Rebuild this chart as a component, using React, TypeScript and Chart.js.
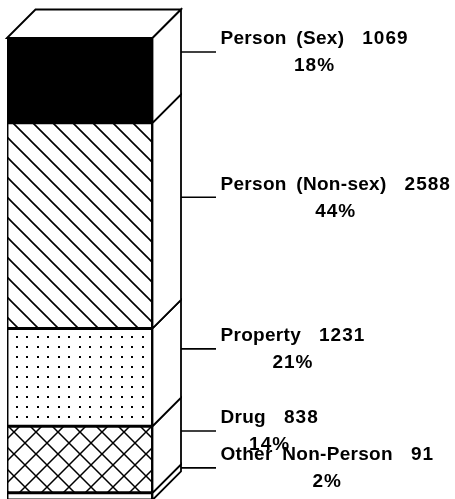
import { useEffect, useRef } from 'react';
import { Chart, registerables } from 'chart.js';

Chart.register(...registerables);

// Bottom-to-top stack order
const categories = ['Other Non-Person', 'Drug', 'Property', 'Person (Non-sex)', 'Person (Sex)'];
const values = [91, 838, 1231, 2588, 1069];
const percentLabels = ['2%', '14%', '21%', '44%', '18%'];
const fillKinds = ['white', 'cross', 'dots', 'hatch', 'solid'];
const barLabels = ['Offenses'];

function makeFill(ctx: CanvasRenderingContext2D, kind: string): string | CanvasPattern {
  if (kind === 'solid') return '#000';
  if (kind === 'white') return '#fff';
  const c = document.createElement('canvas');
  const p = c.getContext('2d')!;
  let tx = 0;
  let ty = 0;
  if (kind === 'hatch') {
    c.width = 20; c.height = 20;
    p.fillStyle = '#fff'; p.fillRect(0, 0, 20, 20);
    p.strokeStyle = '#000'; p.lineWidth = 1.6;
    p.beginPath();
    p.moveTo(-2, -2); p.lineTo(22, 22);
    p.moveTo(-2, 18); p.lineTo(2, 22);
    p.moveTo(18, -2); p.lineTo(22, 2);
    p.stroke();
    tx = 10; ty = 0;
  } else if (kind === 'cross') {
    c.width = 22; c.height = 22;
    p.fillStyle = '#fff'; p.fillRect(0, 0, 22, 22);
    p.strokeStyle = '#000'; p.lineWidth = 1.5;
    p.beginPath();
    p.moveTo(-2, -2); p.lineTo(24, 24);
    p.moveTo(24, -2); p.lineTo(-2, 24);
    p.stroke();
    tx = 14; ty = 14;
  } else if (kind === 'dots') {
    c.width = 21; c.height = 10;
    p.fillStyle = '#fff'; p.fillRect(0, 0, 21, 10);
    p.fillStyle = '#000';
    p.fillRect(0, 0, 2, 2);
    p.fillRect(10, 0, 2, 2);
    tx = 16; ty = 6;
  }
  const pat = ctx.createPattern(c, 'repeat')!;
  pat.setTransform(new DOMMatrix().translate(tx, ty));
  return pat;
}

const DEPTH = 28.5;

const depthPlugin = {
  id: 'depth3d',
  afterDatasetsDraw(chart: any) {
    const ctx: CanvasRenderingContext2D = chart.ctx;
    const yScale = chart.scales.y;
    const bar: any = chart.getDatasetMeta(0).data[0];
    const left = bar.x - bar.width / 2;
    const right = bar.x + bar.width / 2;
    const bounds: number[] = [yScale.getPixelForValue(0)];
    let cum = 0;
    values.forEach((v) => {
      cum += v;
      bounds.push(yScale.getPixelForValue(cum));
    });
    const top = bounds[bounds.length - 1];
    ctx.save();
    ctx.lineWidth = 1.8;
    ctx.strokeStyle = '#000';
    ctx.fillStyle = '#fff';
    ctx.lineJoin = 'miter';
    // top face
    ctx.beginPath();
    ctx.moveTo(left, top);
    ctx.lineTo(left + DEPTH, top - DEPTH);
    ctx.lineTo(right + DEPTH, top - DEPTH);
    ctx.lineTo(right, top);
    ctx.closePath();
    ctx.fill();
    ctx.stroke();
    // side faces
    for (let i = 0; i < values.length; i++) {
      const b = bounds[i];
      const t = bounds[i + 1];
      ctx.beginPath();
      ctx.moveTo(right, b);
      ctx.lineTo(right, t);
      ctx.lineTo(right + DEPTH, t - DEPTH);
      ctx.lineTo(right + DEPTH, b - DEPTH);
      ctx.closePath();
      ctx.fillStyle = '#fff';
      ctx.fill();
      ctx.stroke();
    }
    // leaders and labels
    const total = values.reduce((a, b) => a + b, 0);
    const c2: any = ctx;
    ctx.font = 'bold 19px "Liberation Sans", Arial, sans-serif';
    c2.wordSpacing = '4px';
    ctx.textBaseline = 'alphabetic';
    ctx.textAlign = 'left';
    ctx.fillStyle = '#000';
    for (let i = 0; i < values.length; i++) {
      const ly = (bounds[i] + bounds[i + 1]) / 2 - DEPTH;
      const x0 = right + DEPTH;
      ctx.lineWidth = 1.6;
      ctx.beginPath();
      ctx.moveTo(x0, ly);
      ctx.lineTo(x0 + 35, ly);
      ctx.stroke();
      const tx = x0 + 39.5;
      const base = ly - 7.5;
      const name = categories[i];
      const val = String(values[i]);
      c2.letterSpacing = '0.3px';
      const nameW = ctx.measureText(name).width;
      ctx.fillText(name, tx, base);
      c2.letterSpacing = '1px';
      const valX = tx + nameW + 18;
      ctx.fillText(val, valX, base);
      const valW = ctx.measureText(val).width - 1;
      const center = (tx + valX + valW) / 2;
      const pct = percentLabels[i] || Math.round((values[i] / total) * 100) + '%';
      const pw = ctx.measureText(pct).width - 1;
      ctx.fillText(pct, center - pw / 2, base + 27);
    }
    ctx.restore();
  },
};

export default function App() {
  const ref = useRef<HTMLCanvasElement | null>(null);
  useEffect(() => {
    const canvas = ref.current!;
    const ctx = canvas.getContext('2d')!;
    const total = values.reduce((a, b) => a + b, 0);
    const chart = new Chart(canvas, {
      type: 'bar',
      data: {
        labels: barLabels,
        datasets: categories.map((name, i) => ({
          label: name,
          data: [values[i]],
          backgroundColor: makeFill(ctx, fillKinds[i]) as any,
          borderColor: '#000',
          borderWidth: 1.8,
          borderSkipped: false,
          barPercentage: 1,
          categoryPercentage: 1,
        })),
      },
      options: {
        responsive: false,
        animation: false,
        devicePixelRatio: 1,
        layout: { padding: { left: 7, right: 302.5, top: 38, bottom: 0 } },
        plugins: { legend: { display: false }, tooltip: { enabled: false }, title: { display: false } },
        scales: {
          x: { stacked: true, display: false },
          y: { stacked: true, display: false, min: 0, max: total },
        },
      },
      plugins: [depthPlugin],
    });
    return () => chart.destroy();
  }, []);
  return (
    <div style={{ position: 'fixed', left: 0, top: 0, width: 455, height: 499, overflow: 'hidden', background: '#fff' }}>
      <canvas ref={ref} width={455} height={500} style={{ display: 'block' }} />
    </div>
  );
}
